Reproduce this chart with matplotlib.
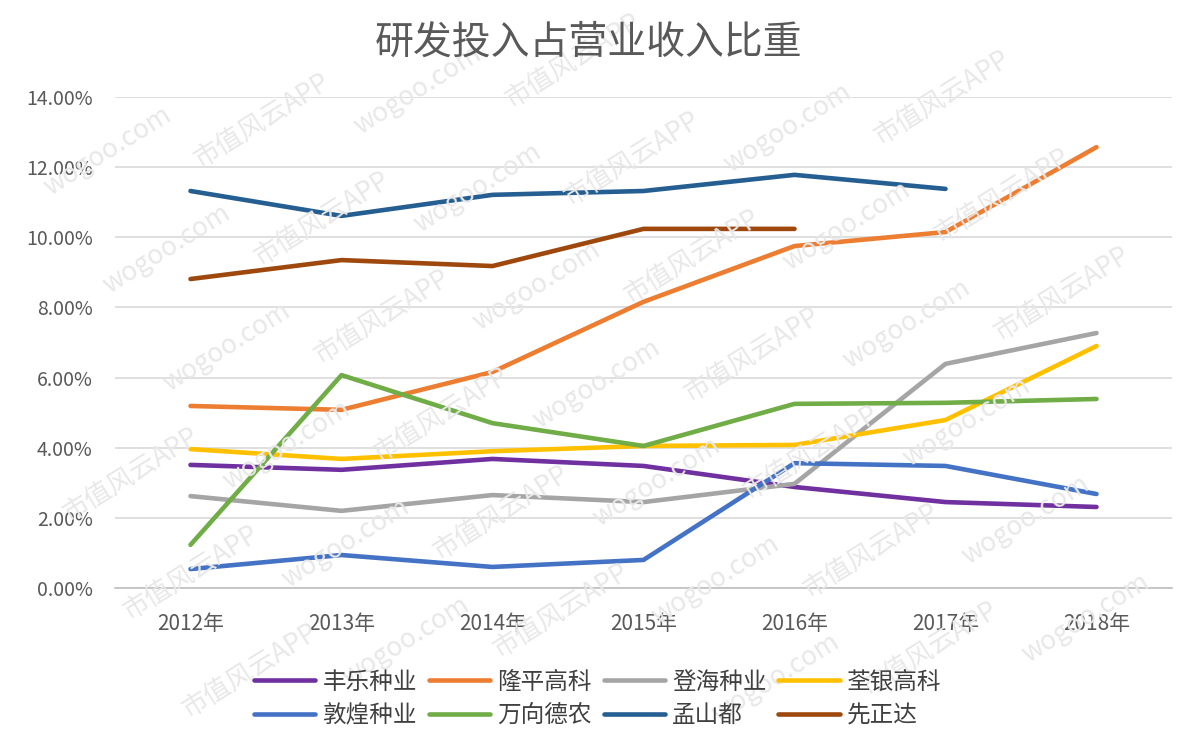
import numpy as np
import matplotlib.pyplot as plt

plt.rcParams['font.family'] = ['Noto Sans CJK SC', 'DejaVu Sans']

years = ['2012年', '2013年', '2014年', '2015年', '2016年', '2017年', '2018年']

# R&D spending as % of revenue
fengle = [3.51, 3.37, 3.68, 3.48, 2.88, 2.45, 2.31]
longping = [5.19, 5.08, 6.16, 8.16, 9.75, 10.15, 12.57]
denghai = [2.62, 2.20, 2.65, 2.45, 2.97, 6.39, 7.27]
quanyin = [3.96, 3.68, 3.90, 4.05, 4.08, 4.79, 6.90]
dunhuang = [0.54, 0.94, 0.60, 0.80, 3.56, 3.48, 2.68]
wanxiang = [1.23, 6.07, 4.70, 4.05, 5.25, 5.28, 5.39]
monsanto = [11.32, 10.61, 11.21, 11.32, 11.78, 11.38, np.nan]
syngenta = [8.81, 9.35, 9.18, 10.24, 10.24, np.nan, np.nan]

names = ['丰乐种业', '隆平高科', '登海种业', '荃银高科',
         '敦煌种业', '万向德农', '孟山都', '先正达']
series = [fengle, longping, denghai, quanyin, dunhuang, wanxiang, monsanto, syngenta]
colors = ['#7030A0', '#ED7D31', '#A5A5A5', '#FFC000',
          '#4472C4', '#70AD47', '#255E91', '#9E480E']

fig = plt.figure(figsize=(11.93, 7.54), dpi=100)
ax = fig.add_axes([115/1193, 1 - 588/754, (1172-115)/1193, (588-97)/754])

x = np.arange(len(years))
lines = []
for vals, name, c in zip(series, names, colors):
    l, = ax.plot(x, vals, color=c, lw=3.3, label=name, solid_capstyle='round',
                 solid_joinstyle='round', zorder=3)
    lines.append(l)

ax.set_xlim(-0.5, 6.5)
ax.set_ylim(0, 14)
ax.set_yticks(np.arange(0, 15, 2))
ax.set_yticklabels(['%.2f%%' % v for v in np.arange(0, 15, 2)])
ax.set_xticks(x)
ax.set_xticklabels(years)
ax.grid(axis='y', color='#D9D9D9', lw=1.2)
ax.set_axisbelow(True)
for s in ['top', 'right', 'left']:
    ax.spines[s].set_visible(False)
ax.spines['bottom'].set_color('#BFBFBF')
ax.spines['bottom'].set_linewidth(1.2)
ax.tick_params(axis='both', length=0, colors='#595959', labelsize=14)
ax.tick_params(axis='x', pad=18, labelsize=15)
ax.tick_params(axis='y', pad=16)

fig.text(0.493, 0.943, '研发投入占营业收入比重', ha='center', va='center',
         fontsize=28, color='#595959')

# legend: 2 rows x 4 columns, row-wise order
order = [0, 4, 1, 5, 2, 6, 3, 7]
fig.legend([lines[i] for i in order], [names[i] for i in order],
           loc='center', bbox_to_anchor=(0.501, 0.073), ncol=4, frameon=False,
           fontsize=17, handlelength=2.6, columnspacing=0.5, handletextpad=0.3,
           labelspacing=0.45, labelcolor='#404040')

# faint watermark
for i in range(-6, 14):
    for j in range(-2, 10):
        px = 0.13 * i + 0.08 * j
        py = -0.1 + 0.17 * j + 0.04 * i
        if 0.08 < px < 0.92 and 0.06 < py < 0.94:
            txt = '市值风云APP' if (i + j) % 2 == 0 else 'wogoo.com'
            fig.text(px, py, txt, rotation=32, fontsize=19, color='#E8E8E8',
                     ha='center', va='center', zorder=0)

fig.savefig('out.png', dpi=100)
